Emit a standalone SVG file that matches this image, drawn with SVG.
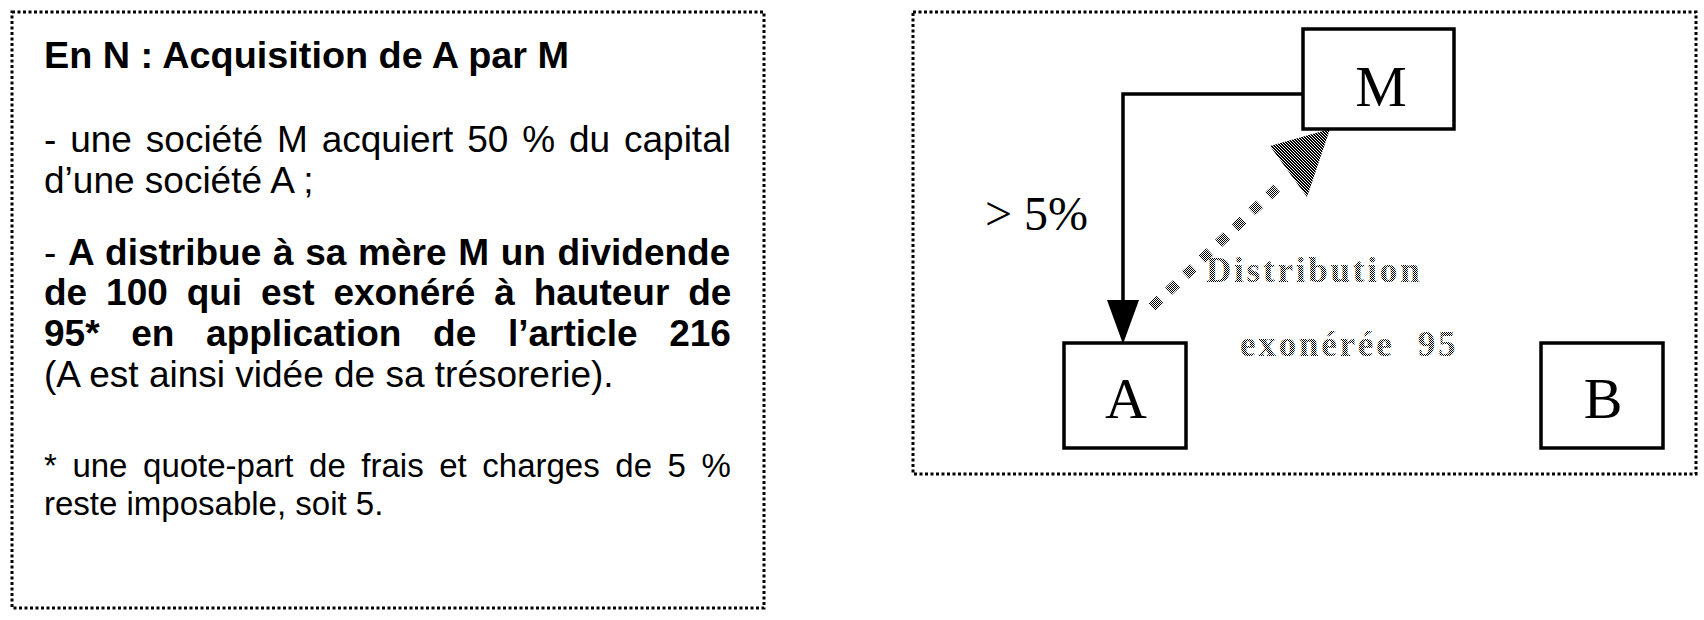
<svg xmlns="http://www.w3.org/2000/svg" width="1704" height="620" viewBox="0 0 1704 620">
  <style>
    .frame { fill: none; stroke: #000; stroke-width: 3; stroke-dasharray: 3 2.5; }
    .box { fill: #fff; stroke: #000; stroke-width: 3.5; }
    .sans { font-family: "Liberation Sans", Arial, sans-serif; font-size: 37px; fill: #000; }
    .bold { font-weight: bold; }
    .title { font-size: 37.8px; }
    .foot { font-size: 33px; }
    .serif { font-family: "Liberation Serif", "Times New Roman", serif; fill: #000; }
    .node-label { font-size: 58px; text-anchor: middle; }
    .dither-text { font-family: "Liberation Serif", "Times New Roman", serif; font-size: 35px; font-weight: bold; letter-spacing: 2.8px; fill: url(#dither); }
    .line { fill: none; stroke: #000; stroke-width: 3.5; }
  </style>
  <defs>
    <pattern id="dither" patternUnits="userSpaceOnUse" width="2" height="2">
      <rect x="0" y="0" width="1" height="1" fill="#000"/>
      <rect x="1" y="1" width="1" height="1" fill="#000"/>
    </pattern>
    <pattern id="hatch" patternUnits="userSpaceOnUse" width="3" height="3">
      <rect x="0" y="0" width="1" height="1" fill="#000"/>
      <rect x="1" y="1" width="1" height="1" fill="#000"/>
      <rect x="2" y="2" width="1" height="1" fill="#000"/>
      <rect x="1" y="0" width="1" height="1" fill="#000"/>
      <rect x="2" y="1" width="1" height="1" fill="#000"/>
      <rect x="0" y="2" width="1" height="1" fill="#000"/>
    </pattern>
  </defs>
  <rect width="1704" height="620" fill="#fff"/>

  <g id="text-panel">
    <rect class="frame" x="12" y="12" width="752" height="596"/>
    <text class="sans bold title" x="44" y="68">En N : Acquisition de A par M</text>
    <text class="sans" x="44" y="152" word-spacing="3.6">- une société M acquiert 50 % du capital</text>
    <text class="sans" x="44" y="193">d’une société A ;</text>
    <text class="sans" x="44" y="265" word-spacing="1.4">- <tspan class="bold">A distribue à sa mère M un dividende</tspan></text>
    <text class="sans bold" x="44" y="305" word-spacing="8.6">de 100 qui est exonéré à hauteur de</text>
    <text class="sans bold" x="44" y="346" word-spacing="21.4">95* en application de l’article 216</text>
    <text class="sans" x="44" y="387">(A est ainsi vidée de sa trésorerie).</text>
    <text class="sans foot" x="44" y="477" word-spacing="6.4">* une quote-part de frais et charges de 5 %</text>
    <text class="sans foot" x="44" y="515">reste imposable, soit 5.</text>
  </g>

  <g id="diagram-panel">
    <rect class="frame" x="913" y="12" width="783" height="462"/>
  </g>

  <g id="connectors">
    <g id="edge-M-A">
      <path class="line" d="M1305,94 H1123 V302"/>
      <polygon points="1107,300 1139,300 1123,344" fill="#000"/>
    </g>
    <g id="edge-A-M">
      <line x1="1152" y1="307" x2="1284" y2="181" stroke="url(#dither)" stroke-width="10" stroke-dasharray="11 12"/>
      <polygon points="1330,129 1270,146 1307,197" fill="url(#hatch)"/>
    </g>
  </g>

  <g id="node-M">
    <rect class="box" x="1303" y="29" width="151" height="100"/>
    <text class="serif node-label" x="1381" y="106">M</text>
  </g>
  <g id="node-A">
    <rect class="box" x="1064" y="343" width="122" height="105"/>
    <text class="serif node-label" x="1126" y="418">A</text>
  </g>
  <g id="node-B">
    <rect class="box" x="1541" y="343" width="122" height="105"/>
    <text class="serif node-label" x="1603" y="418">B</text>
  </g>

  <g id="labels">
    <text class="serif" x="985" y="230" font-size="48">&gt; 5%</text>
    <text class="dither-text" x="1206" y="282">Distribution</text>
    <text class="dither-text" x="1240" y="356" xml:space="preserve">exonérée  95</text>
  </g>
</svg>
